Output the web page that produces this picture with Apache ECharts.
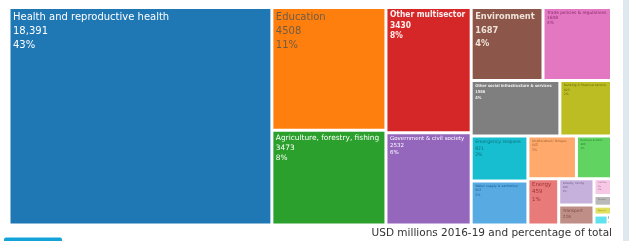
<!DOCTYPE html>
<html>
<head>
<meta charset="utf-8">
<script src="https://cdn.jsdelivr.net/npm/echarts@6/dist/echarts.min.js"></script>
<style>
  html, body { margin: 0; padding: 0; background: #fff; }
  #chart { width: 629px; height: 241px; }
</style>
</head>
<body>
<div id="chart"></div>
<script>
// sectors, USD millions 2016-19
var sectors = [
    'Health and reproductive health', 'Education', 'Agriculture, forestry, fishing',
    'Other multisector', 'Government & civil society', 'Environment',
    'Trade policies & regulations', 'Other social infrastructure & services',
    'Banking & financial services', 'Emergency response', 'Water supply & sanitation',
    'Unallocated / Unspecified', 'Business & other services', 'Energy',
    'Industry, mining, construction', 'Transport', 'Communications',
    'Disaster prevention & preparedness', 'Reconstruction relief & rehabilitation',
    'Action relating to debt', 'General budget support', 'Development food assistance'
];
var amounts = [
    18391, 4508, 3473,
    3430, 2532, 1687,
    1608, 1586,
    923, 821, 802,
    665, 480, 459,
    300, 226, 95,
    60, 50,
    45, 6, 5
];
// share of total as printed on the chart
var shares = [
    '43%', '11%', '8%',
    '8%', '6%', '4%',
    '4%', '4%',
    '2%', '2%', '2%',
    '2%', '1%', '1%',
    '1%', '1%', '0%',
    '0%', '0%',
    '0%', '0%', '0%'
];
var subtitle = 'USD millions 2016-19 and percentage of total';

// colours + label look for each box (same order as sectors)
var colors = [
    '#1f77b4', '#ff7f0e', '#2ca02c', '#d62728', '#9467bd', '#8c564b',
    '#e377c2', '#7f7f7f', '#bcbd22', '#17becf', '#58aae2', '#ffaa6c',
    '#60d360', '#e87a7a', '#c6b0dc', '#bf8e87', '#f6c8e6', '#b9b9b9',
    '#e0e05e', '#5fe2ee', '#24476b', '#e2812f'
];
var NORM = 'DejaVu Sans';
var COND = '"DejaVu Sans Condensed", "DejaVu Sans"';
// [fontSize, lineHeight, color, weight, family]
var looks = [
    [10, 14, '#ffffff', 'normal', NORM],
    [10, 14, '#6f5c45', 'normal', NORM],
    [7.4, 10, '#ffffff', 'normal', NORM],
    [8.4, 10.5, '#fbeeee', 'bold', COND],
    [5.5, 7, '#ffffff', 'normal', NORM],
    [9.2, 13.5, '#efe3d8', 'bold', COND],
    [4.3, 5.2, '#8b2f6f', 'normal', NORM],
    [4.0, 6, '#eeeeee', 'bold', COND],
    [3.1, 4.5, '#6a6a12', 'normal', NORM],
    [4.6, 6.5, '#0e6e7c', 'normal', NORM],
    [3.3, 4.6, '#1f5f90', 'normal', NORM],
    [3.3, 4.6, '#a0602c', 'normal', NORM],
    [2.6, 4, '#2a7a2a', 'normal', NORM],
    [5.5, 7.2, '#9c3434', 'normal', NORM],
    [2.6, 4, '#6a5a8a', 'normal', NORM],
    [4.3, 6.3, '#7a4c44', 'normal', NORM],
    [2.2, 3.4, '#a0608a', 'normal', NORM],
    [2, 3, '#707070', 'normal', NORM],
    [2, 3, '#8a8a2a', 'normal', NORM],
    [0, 0, '#fff', 'normal', NORM],
    [0, 0, '#fff', 'normal', NORM],
    [0, 0, '#fff', 'normal', NORM]
];

function fmt(v) {
    // the big box prints a thousands separator, the others do not
    if (v >= 10000) {
        return String(v).replace(/\B(?=(\d{3})+(?!\d))/g, ',');
    }
    return String(v);
}

var items = sectors.map(function(name, i) {
    var lk = looks[i];
    return {
        name: name,
        value: amounts[i],
        share: shares[i],
        itemStyle: { color: colors[i] },
        label: {
            show: lk[0] > 0,
            fontSize: lk[0] || 1,
            lineHeight: lk[1] || 1,
            color: lk[2],
            fontWeight: lk[3],
            fontFamily: lk[4]
        }
    };
});

var chart = echarts.init(document.getElementById('chart'), null, { renderer: 'canvas' });

chart.setOption({
    animation: false,
    backgroundColor: '#ffffff',
    title: {
        text: subtitle,
        right: 17,
        top: 228,
        padding: 0,
        textStyle: {
            fontFamily: 'DejaVu Sans',
            fontSize: 10.5,
            fontWeight: 'normal',
            color: '#333333'
        }
    },
    graphic: [
        {
            type: 'rect',
            shape: { x: 623, y: 0, width: 6, height: 241 },
            style: { fill: '#dfe8ef' },
            silent: true
        },
        {
            type: 'rect',
            shape: { x: 4, y: 237.5, width: 58, height: 6, r: 2 },
            style: { fill: '#14a3d9' },
            silent: true
        }
    ],
    series: [{
        type: 'treemap',
        left: 10.5,
        top: 9,
        width: 599.5,
        height: 214.5,
        roam: false,
        nodeClick: false,
        breadcrumb: { show: false },
        squareRatio: 1,
        label: {
            show: true,
            position: 'insideTopLeft',
            padding: [1, 2.5],
            overflow: 'truncate',
            ellipsis: '',
            formatter: function(p) {
                return p.name + '\n' + fmt(p.value) + '\n' + p.data.share;
            }
        },
        itemStyle: { borderWidth: 0 },
        levels: [
            { itemStyle: { borderWidth: 0, gapWidth: 3, borderColor: '#fff' } }
        ],
        emphasis: { disabled: true },
        data: items
    }]
});
</script>
</body>
</html>
